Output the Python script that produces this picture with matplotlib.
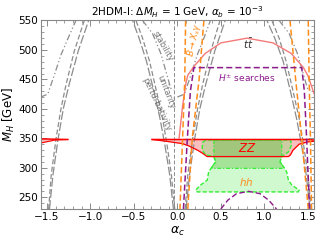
import numpy as np
import matplotlib
matplotlib.use("Agg")
import matplotlib.pyplot as plt
from matplotlib.ticker import MultipleLocator

plt.rcParams["font.family"] = ["DejaVu Sans"]
plt.rcParams["mathtext.fontset"] = "dejavusans"

# --- theory constraints (gray) ---
# left "U" (centred near -pi/4)
stab_l1_a = [-1.571, -1.49, -1.42, -1.337, -1.25, -1.166]
stab_l1_m = [420, 425, 455, 492, 522, 550]
unit_l1_a = [-1.48, -1.45, -1.394, -1.337, -1.28, -1.185, -1.07]
unit_l1_m = [230, 288, 350, 401, 441, 498, 550]
pert_l1_a = [-1.47, -1.43, -1.37, -1.31, -1.245, -1.14, -1.02]
pert_l1_m = [230, 288, 350, 401, 441, 498, 550]

stab_l2_a = [-0.40, -0.286, -0.19, -0.076, -0.038]
stab_l2_m = [550, 528, 494, 435, 432]
unit_l2_a = [-0.03, -0.07, -0.12, -0.17, -0.24, -0.32, -0.40, -0.476]
unit_l2_m = [230, 290, 340, 384, 430, 481, 520, 550]
pert_l2_a = [-0.045, -0.09, -0.145, -0.20, -0.27, -0.355, -0.44, -0.514]
pert_l2_m = [230, 290, 340, 384, 430, 481, 520, 550]

# right "U" (centred near +pi/4)
stab_r1_a = [0.0, 0.08, 0.15, 0.23, 0.31, 0.38]
stab_r1_m = [420, 425, 455, 492, 522, 550]
unit_r1_a = [0.09, 0.12, 0.177, 0.234, 0.29, 0.385, 0.49]
unit_r1_m = [230, 288, 350, 401, 441, 498, 550]
pert_r1_a = [0.10, 0.14, 0.20, 0.26, 0.325, 0.43, 0.55]
pert_r1_m = [230, 288, 350, 401, 441, 498, 550]

stab_r2_a = [1.17, 1.285, 1.38, 1.495, 1.533]
stab_r2_m = [550, 528, 494, 435, 432]
unit_r2_a = [1.54, 1.50, 1.45, 1.40, 1.33, 1.25, 1.17, 1.086]
unit_r2_m = [230, 290, 340, 384, 430, 481, 520, 550]
pert_r2_a = [1.525, 1.48, 1.426, 1.37, 1.30, 1.216, 1.12, 1.03]
pert_r2_m = [230, 290, 340, 384, 430, 481, 520, 550]

# B -> X_s gamma (orange)
bsg1_a = [0.095, 0.085, 0.06, 0.03]
bsg1_m = [550, 450, 350, 230]
bsg2_a = [0.305, 0.25, 0.171, 0.12]
bsg2_m = [550, 450, 350, 230]
bsg3_a = [1.295, 1.36, 1.43, 1.505]
bsg3_m = [550, 450, 350, 230]
bsg4_a = [1.505, 1.515, 1.53, 1.543]
bsg4_m = [550, 450, 350, 230]

# H+- searches (purple)
hpm_a = [0.07, 0.115, 0.15, 0.19, 1.43, 1.46, 1.486, 1.52]
hpm_m = [230, 350, 430, 470, 470, 430, 350, 230]
hpm2_a = [0.50, 0.58, 0.68, 0.82, 0.95, 1.05, 1.14]
hpm2_m = [230, 245, 256, 260, 256, 245, 230]

# t tbar (salmon)
tt_a = [0.02, 0.06, 0.10, 0.12, 0.19, 0.32, 0.5, 0.8, 1.1, 1.31, 1.45, 1.505, 1.571]
tt_m = [350, 405, 445, 457, 472, 494, 512, 520, 512, 494, 470, 455, 426]

# ZZ (red band)
zz1_a = [-1.571, -1.41, -1.26]
zz1_hi = [349, 348.5, 348]
zz1_lo = [342, 347, 348]
zz2_a = [-0.29, -0.13, 0.057, 0.133, 0.23, 0.286, 0.343, 1.277, 1.30, 1.33, 1.40, 1.50, 1.571]
zz2_hi = [348, 348, 348, 348, 348, 348, 348, 348, 348, 348, 348, 348, 347]
zz2_lo = [348, 345, 341, 337, 330, 325, 319, 319, 322, 330, 340, 344, 345]

# hh (green), outer and inner regions
hh_out_a = [0.324, 0.29, 0.286, 0.324, 0.42, 0.44, 0.40, 0.36, 0.343, 0.27, 0.21, 0.23,
            1.39, 1.40, 1.314, 1.277, 1.257, 1.22, 1.18, 1.20, 1.277, 1.314, 1.30]
hh_out_m = [347, 343, 330, 322, 319, 310, 302, 293, 279, 271, 262, 259,
            259, 262, 271, 279, 293, 302, 310, 319, 327, 339, 347]
hh_in_a = [0.42, 0.42, 0.44, 0.40, 0.40, 1.22, 1.22, 1.18, 1.20, 1.20]
hh_in_m = [347, 319, 310, 302, 299, 299, 302, 310, 319, 347]

gray = "#8c8c8c"
orange = "#ff8c1a"
purple = "#8b1a8b"

fig = plt.figure(figsize=(3.32, 2.46), dpi=100)
ax = fig.add_axes([0.1226, 0.1504, 0.8232, 0.7663])

dd = (0, (5, 2, 1, 2, 1, 2))
for a, m in [(stab_l1_a, stab_l1_m), (stab_l2_a, stab_l2_m), (stab_r1_a, stab_r1_m), (stab_r2_a, stab_r2_m)]:
    ax.plot(a, m, color=gray, lw=0.9, ls=dd)
for a, m in [(unit_l1_a, unit_l1_m), (unit_l2_a, unit_l2_m), (unit_r1_a, unit_r1_m), (unit_r2_a, unit_r2_m)]:
    ax.plot(a, m, color=gray, lw=0.9, ls=(0, (4, 2)))
for a, m in [(pert_l1_a, pert_l1_m), (pert_l2_a, pert_l2_m), (pert_r1_a, pert_r1_m), (pert_r2_a, pert_r2_m)]:
    ax.plot(a, m, color=gray, lw=0.9, ls=(0, (7, 2)))
ax.plot([-0.04, -0.04], [550, 230], color=gray, lw=0.7, ls=(0, (4, 2)))

# ZZ
ax.fill_between(zz1_a, zz1_lo, zz1_hi, color="#f59a9a", alpha=0.7, lw=0)
ax.plot(zz1_a, zz1_hi, color="red", lw=1.1)
ax.plot(zz1_a, zz1_lo, color="red", lw=0.8)
ax.fill_between(zz2_a, zz2_lo, zz2_hi, color="#f7a8a8", alpha=0.75, lw=0)
ax.plot(zz2_a, zz2_hi, color="red", lw=1.1)
ax.plot(zz2_a, zz2_lo, color="red", lw=0.9)

# hh
ax.fill(hh_out_a, hh_out_m, color="#66ee66", alpha=0.3, lw=0)
ax.fill(hh_in_a, hh_in_m, color="#55bb33", alpha=0.35, lw=0)
ax.fill(hh_out_a, hh_out_m, fill=False, ec="#33ee33", lw=1.0, ls=(0, (3, 1.5)))
ax.fill(hh_in_a, hh_in_m, fill=False, ec="#33ee33", lw=0.9, ls=(0, (3, 1.5, 1, 1.5)))

# t tbar
ax.plot(tt_a, tt_m, color="#f47a7a", lw=1.0)

# B -> Xs gamma
for a, m in [(bsg1_a, bsg1_m), (bsg2_a, bsg2_m), (bsg3_a, bsg3_m), (bsg4_a, bsg4_m)]:
    ax.plot(a, m, color=orange, lw=1.1, ls=(0, (4, 2)))

# H+- searches
ax.plot(hpm_a, hpm_m, color=purple, lw=1.1, ls=(0, (4, 2)))
ax.plot(hpm2_a, hpm2_m, color=purple, lw=1.0, ls=(0, (4, 2)))

# labels
ax.text(0.81, 510, r"$t\bar{t}$", fontsize=7.5, color="#333333", ha="center", va="center")
ax.text(0.80, 452, r"$H^{\pm}$ searches", fontsize=6.5, color=purple, ha="center", va="center")
ax.text(0.80, 333, r"$ZZ$", fontsize=8.5, color="red", ha="center", va="center")
ax.text(0.79, 276, r"$\mathbf{\mathit{hh}}$", fontsize=7.5, color=orange, ha="center", va="center")
ax.text(0.19, 517, r"$B\to X_s\gamma$", fontsize=6.5, color=orange, ha="center", va="center", rotation=78)
ax.text(-0.17, 507, "stability", fontsize=6, color="#777777", ha="center", va="center", rotation=-60)
ax.text(-0.135, 429, "unitarity", fontsize=6, color="#777777", ha="center", va="center", rotation=-69)
ax.text(-0.235, 407, "perturbativity", fontsize=6, color="#777777", ha="center", va="center", rotation=-65)

ax.set_xlim(-1.571, 1.571)
ax.set_ylim(230, 550)
ax.xaxis.set_major_locator(MultipleLocator(0.5))
ax.xaxis.set_minor_locator(MultipleLocator(0.1))
ax.yaxis.set_major_locator(MultipleLocator(50))
ax.yaxis.set_minor_locator(MultipleLocator(10))
ax.tick_params(which="both", direction="in", top=True, right=True, color="#777777",
               labelsize=7.5, pad=2)
ax.tick_params(which="major", length=4, width=0.6)
ax.tick_params(which="minor", length=2, width=0.5)
for s in ax.spines.values():
    s.set_color("#888888")
    s.set_linewidth(0.8)

ax.set_xlabel(r"$\alpha_c$", fontsize=9, labelpad=2)
ax.set_ylabel(r"$M_H$ [GeV]", fontsize=8.5)
ax.yaxis.set_label_coords(-0.085, 0.5)
ax.set_title(r"2HDM-I: $\Delta M_H$ = 1 GeV, $\alpha_b$ = $10^{-3}$", fontsize=7.5, pad=3)

fig.savefig("out.png", dpi=100)
